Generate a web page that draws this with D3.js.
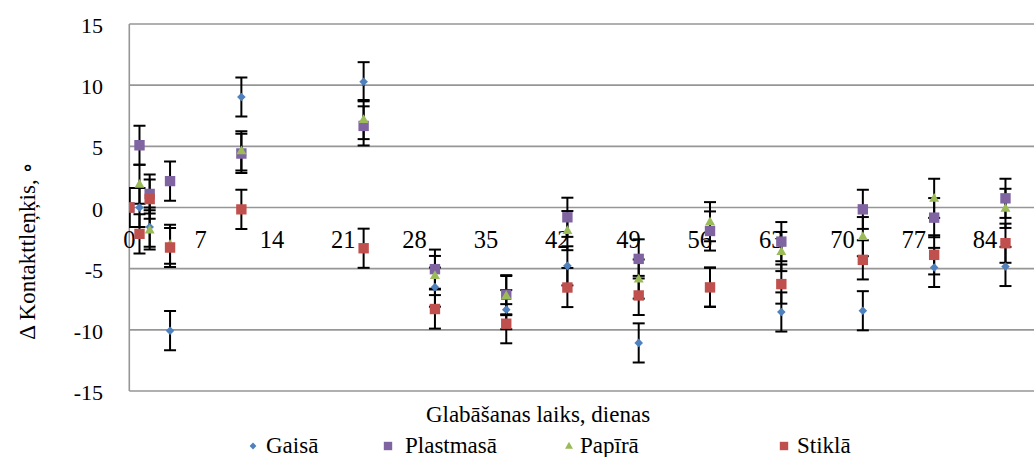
<!DOCTYPE html>
<html><head><meta charset="utf-8">
<script src="https://cdn.jsdelivr.net/npm/d3@7/dist/d3.min.js"></script>
<style>body{margin:0;background:#fff}svg{display:block}</style>
</head><body><svg id="c" width="1034" height="457" font-family="'Times New Roman', 'Liberation Serif', 'DejaVu Serif', serif"></svg>
<script>
const days = [0, 1, 2, 4, 11, 23, 30, 37, 43, 50, 57, 64, 72, 79, 86];
const gaisa = [0, 0.0, -1.6, -10.07, 9.03, 10.28, -6.51, -8.35, -4.77, -11.07, -6.5, -8.54, -8.44, -4.9, -4.82];
const plastmasa = [0, 5.09, 1.1, 2.16, 4.42, 6.67, -5.04, -7.13, -0.8, -4.2, -1.92, -2.79, -0.15, -0.83, 0.75];
const papira = [0, 1.9, -1.83, -3.0, 4.63, 7.19, -5.56, -7.2, -1.89, -5.85, -1.16, -3.6, -2.38, 0.75, -0.07];
const stikla = [0, -2.16, 0.69, -3.27, -0.15, -3.33, -8.3, -9.5, -6.54, -7.19, -6.53, -6.26, -4.28, -3.87, -2.92];
const errorSize = 1.6;
const xTicks = [0, 7, 14, 21, 28, 35, 42, 49, 56, 63, 70, 77, 84];
const yTicks = [-15, -10, -5, 0, 5, 10, 15];
const seriesNames = ["Gaisā", "Plastmasā", "Papīrā", "Stiklā"];
const seriesColors = ["#4F81BD", "#8064A2", "#9BBB59", "#C0504D"];
const seriesShapes = ["diamond", "square", "triangle", "square"];
const seriesValues = [gaisa, plastmasa, papira, stikla];

const svg = d3.select("#c");
const x = d3.scaleLinear().domain([0, 88.8]).range([129.3, 1034]);
const y = d3.scaleLinear().domain([-15, 15]).range([391, 24]);

function shapePath(shape, r) {
  if (shape === "diamond") return `M0,${-r}L${r},0L0,${r}L${-r},0Z`;
  if (shape === "square") return `M${-r},${-r}H${r}V${r}H${-r}Z`;
  const h = r * 1.75;
  return `M0,${-h*0.6}L${r},${h*0.4}L${-r},${h*0.4}Z`;
}
const markerR = {diamond: 4.3, square: 5.2, triangle: 5};
const legendR = {diamond: 3.4, square: 4.2, triangle: 4};

svg.append("clipPath").attr("id", "plot").append("rect")
  .attr("x", x(0)).attr("y", 0).attr("width", 1034 - x(0)).attr("height", 457);

// gridlines
svg.append("g").selectAll("line").data(yTicks).join("line")
  .attr("x1", x(0)).attr("x2", 1034).attr("y1", d => y(d)).attr("y2", d => y(d))
  .attr("stroke", "#969696").attr("stroke-width", 1.6);
svg.append("line").attr("x1", x(0)).attr("x2", x(0)).attr("y1", y(15)).attr("y2", y(-15))
  .attr("stroke", "#969696").attr("stroke-width", 1.6);

// y tick labels
svg.append("g").selectAll("text").data(yTicks).join("text")
  .attr("x", 103).attr("y", d => y(d) + 9).attr("text-anchor", "end")
  .attr("font-size", 22).text(d => d);

// x tick labels (at y=0 crossing)
svg.append("g").selectAll("text").data(xTicks).join("text")
  .attr("x", d => x(d)).attr("y", y(0) + 40).attr("text-anchor", "middle")
  .attr("font-size", 24.5).text(d => d);

// error bars
const eb = svg.append("g").attr("clip-path", "url(#plot)").attr("stroke", "#000").attr("stroke-width", 2);
seriesValues.forEach(vals => {
  vals.forEach((v, i) => {
    const cx = x(days[i]);
    eb.append("line").attr("x1", cx).attr("x2", cx).attr("y1", y(v + errorSize)).attr("y2", y(v - errorSize));
    [v + errorSize, v - errorSize].forEach(e => {
      eb.append("line").attr("x1", cx - 6).attr("x2", cx + 6).attr("y1", y(e)).attr("y2", y(e));
    });
  });
});

// markers
const mk = svg.append("g").attr("clip-path", "url(#plot)");
seriesValues.forEach((vals, s) => {
  mk.append("g").selectAll("path").data(vals).join("path")
    .attr("transform", (v, i) => `translate(${x(days[i])},${y(v)})`)
    .attr("d", shapePath(seriesShapes[s], markerR[seriesShapes[s]]))
    .attr("fill", seriesColors[s]);
});

// axis titles
svg.append("text").attr("x", 538).attr("y", 422).attr("text-anchor", "middle")
  .attr("font-size", 23).text("Glabāšanas laiks, dienas");
svg.append("text").attr("transform", "translate(35,251) rotate(-90)").attr("text-anchor", "middle")
  .attr("font-size", 23).text("Δ Kontakttleņķis, ∘");

// legend
const legendMarkerX = [253, 388, 569, 784];
const legendTextX = [266, 405, 580, 797];
seriesNames.forEach((n, s) => {
  svg.append("path").attr("transform", `translate(${legendMarkerX[s]},446)`)
    .attr("d", shapePath(seriesShapes[s], legendR[seriesShapes[s]])).attr("fill", seriesColors[s]);
  svg.append("text").attr("x", legendTextX[s]).attr("y", 453).attr("font-size", 23).text(n);
});
</script></body></html>
